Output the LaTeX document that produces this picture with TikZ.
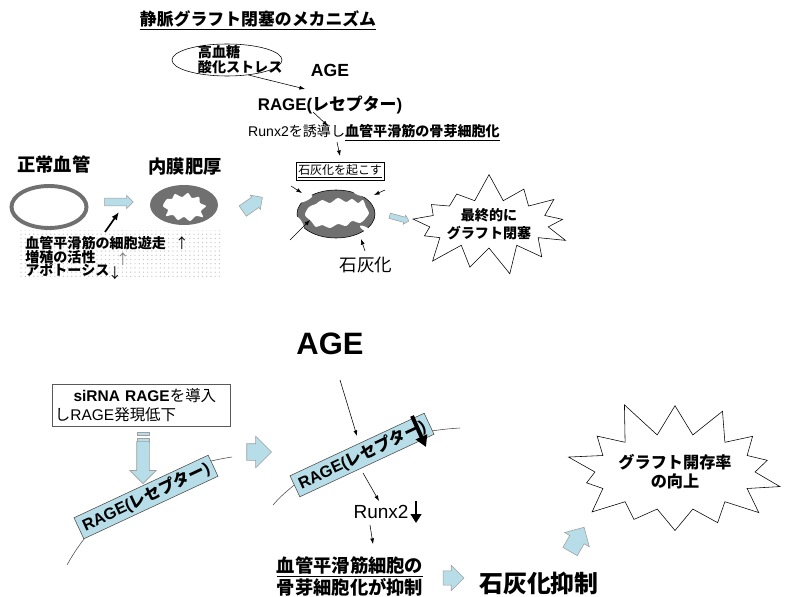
\documentclass[tikz,border=0pt]{standalone}
\usepackage{fontspec}
\setmainfont{Noto Sans CJK JP}
\newfontfamily\latin{Liberation Sans}
\usepackage{tikz}
\usetikzlibrary{positioning,arrows.meta,shapes.geometric,shapes.arrows,shapes.symbols,patterns,calc}
\definecolor{pale}{RGB}{183,222,232}
\definecolor{wall}{RGB}{112,112,112}
\newcommand\fsz[2]{\fontsize{#1}{#2}\selectfont}

\begin{document}
\begin{tikzpicture}[x=0.025cm,y=-0.025cm,
  arr/.style={-{Latex[length=1.4mm,width=1mm]},thin},
  fat/.style={-{Triangle[length=2.2mm,width=2.6mm]},line width=1.8pt},
  blk/.style={single arrow,draw=gray!75,fill=pale,inner sep=0pt},
  rage/.style={draw=gray!60!black,fill=pale,rotate=25,minimum width=3.7cm,
    minimum height=0.58cm,inner sep=1pt,font=\fsz{11.5}{13}\bfseries},
  burst/.style={starburst,draw,fill=white,align=center,inner sep=0pt}]
\useasboundingbox (0,0) rectangle (795,597);

% ---- upper half: how the graft closes ----
\node[font=\fsz{12}{14}\bfseries] (title) at (258,20) {\underline{静脈グラフト閉塞のメカニズム}};
\node[draw,ellipse,minimum width=2.75cm,minimum height=0.8cm,inner sep=0pt] (sugar) at (227,60) {};
\node[anchor=west,align=left,font=\fsz{10}{10.5}\bfseries] (sugarTxt) at (193,60) {高血糖\\酸化ストレス};
\node[font=\fsz{12.5}{14}\bfseries\latin] (ageTop) at (330,70) {AGE};
\node[font=\fsz{12}{14}\bfseries] (rageTop) at (330,105) {{\latin RAGE(}レセプター{\latin )}};
\node[font=\fsz{10}{12}] (runxTop) at (374,133) {{\latin Runx2}を誘導し\underline{\textbf{血管平滑筋の骨芽細胞化}}};
\node[draw,inner sep=1.5pt,font=\fsz{8.5}{10}] (calcBox) at (340,171) {\underline{石灰化を起こす}};
\coordinate (s1) at (305,89);
\coordinate (r1) at (313,112); \coordinate (r2) at (328,126);
\coordinate (k1) at (337,142); \coordinate (k2) at (340,156);
\draw[arr] (sugar.-35) -- (s1);
\draw[arr] (r1) -- (r2);
\draw[arr] (k1) -- (k2);

% normal vessel and intimal thickening
\node[font=\fsz{13}{15}\bfseries] (normalLbl) at (54,164) {正常血管};
\draw[wall,line width=2.8pt] (49,207) ellipse [x radius=37.5, y radius=21];
\node[blk,minimum height=0.72cm,inner ysep=0.09cm,single arrow head extend=0.07cm] (a1) at (117,202) {};
\node[font=\fsz{13}{15}\bfseries] (thickLbl) at (185,167) {内膜肥厚};
\fill[wall] (184,205) ellipse [x radius=34, y radius=20];
\fill[white] plot[smooth cycle,tension=0.5] coordinates {(163,206) (167,199) (172,199) (175,194)
  (182,197) (188,193) (192,198) (199,197) (200,203) (206,206) (201,211) (203,217) (196,216)
  (190,221) (184,217) (178,220) (173,215) (166,216) (168,210)};
\node[blk,rotate=35,minimum height=0.6cm,inner ysep=0.15cm,single arrow head extend=0.06cm] (a2) at (250,206) {};

% factors box
\path[pattern=dots,pattern color=gray!45] (20,230) rectangle (222,278);
\node[anchor=west,inner sep=0pt,font=\fsz{10}{12}\bfseries] (fac1) at (25,243) {血管平滑筋の細胞遊走};
\node[anchor=west,inner sep=0pt,font=\fsz{10}{12}\bfseries] (fac2) at (25,257) {増殖の活性};
\node[anchor=west,inner sep=0pt,font=\fsz{10}{12}\bfseries] (fac3) at (25,270) {アポトーシス};
\node[font=\fsz{10}{12}] (up1) at (182,243) {↑};
\node[font=\fsz{10}{12},text=gray] (up2) at (123,259) {↑};
\node[font=\fsz{10}{12},inner sep=0pt] (dn1) at (115,273) {↓};
\coordinate (b1) at (105,232); \coordinate (b2) at (119,212);
\draw[-{Latex[length=2mm,width=1.6mm]},line width=1.2pt] (b1) -- (b2);

% calcified wall
\fill[wall,draw=black,thin] (336,214) ellipse [x radius=39, y radius=24];
\fill[white] plot[smooth cycle,tension=0.5] coordinates {(305,215) (309,207) (316,204) (322,200)
  (330,203) (338,198) (346,202) (352,199) (358,203) (363,200) (366,207) (369,213) (365,219)
  (360,223) (352,221) (346,226) (338,224) (330,228) (322,225) (316,227) (311,221)};
\fill[white,rotate around={25:(305,199)}] (305,199) ellipse [x radius=8, y radius=2.2];
\fill[white,rotate around={-15:(362,194)}] (362,194) ellipse [x radius=9, y radius=2.2];
\fill[white,rotate around={-60:(300,223)}] (300,223) ellipse [x radius=7, y radius=2.2];
\fill[white,rotate around={-30:(367,230)}] (367,230) ellipse [x radius=8, y radius=2.2];
\coordinate (c1) at (291,186); \coordinate (c2) at (302,193);
\coordinate (c3) at (385,190); \coordinate (c4) at (374,195);
\coordinate (c5) at (290,240); \coordinate (c6) at (310,220);
\coordinate (c7) at (365,251); \coordinate (c8) at (361,239);
\draw[arr] (c1) -- (c2);
\draw[arr] (c3) -- (c4);
\draw[arr] (c5) -- (c6);
\draw[arr] (c7) -- (c8);
\node[font=\fsz{12.5}{14}] (calcLbl) at (366,265) {石灰化};
\node[blk,rotate=-15,minimum height=0.5cm,inner ysep=0.06cm,single arrow head extend=0.05cm] (a3) at (398,218) {};
\node[burst,minimum width=3.3cm,minimum height=2.6cm,starburst points=13,
  starburst point height=0.7cm,random starburst=7,font=\fsz{10}{12.5}\bfseries] (occl) at (489,224)
  {最終的に\\グラフト閉塞};

% ---- lower half: RAGE knock-down ----
\node[font=\fsz{22}{24}\bfseries\latin] (ageBot) at (330,344) {AGE};
\node[draw=gray!70!black,minimum width=4.45cm,minimum height=1.05cm,text width=4.3cm,align=left,
  inner sep=2pt,font=\fsz{11}{13.5}] (sirna) at (141,405)
  {\hspace*{1.2em}{\bfseries\latin siRNA RAGE}を導入\\し{\latin RAGE}発現低下};
% striped block arrow down to the receptor
\fill[pale,draw=gray!75] (137,432) rectangle (149,435);
\fill[pale,draw=gray!75] (137,438) rectangle (149,442);
\node[blk,rotate=-90,minimum height=1.05cm,inner ysep=0.15cm,single arrow head extend=0.17cm,
  anchor=tip] (a4) at (143,484) {};
% membranes with the receptor
\draw[gray!60!black] (67,565) .. controls (100,505) and (160,468) .. (232,457);
\node[rage] (rageL) at (146,497) {{\latin RAGE(}レセプター{\latin )}};
\node[blk,minimum height=0.62cm,inner ysep=0.2cm,single arrow head extend=0.19cm] (a5) at (255,452) {};
\draw[gray!60!black] (273,505) .. controls (310,462) and (390,432) .. (460,428);
\node[rage] (rageR) at (362,455) {{\latin RAGE(}レセプター{\latin )}};
\coordinate (g1) at (340,380); \coordinate (g2) at (357,436);
\draw[arr] (g1) -- (g2);
\coordinate (d1) at (412,416); \coordinate (d2) at (426,447);
\draw[-{Triangle[length=2.8mm,width=3mm]},line width=2.8pt] (d1) -- (d2);
\node[font=\fsz{13.5}{15}\latin] (runxBot) at (381,512) {Runx2};
\coordinate (e1) at (363,473); \coordinate (e2) at (379,501);
\draw[arr] (e1) -- (e2);
\coordinate (f1) at (416,501); \coordinate (f2) at (416,523);
\draw[fat] (f1) -- (f2);
\coordinate (h1) at (370,525); \coordinate (h2) at (373,544);
\draw[arr] (h1) -- (h2);
\node[align=center,font=\fsz{13}{13.5}\bfseries] (osteo) at (350,578)
  {\underline{血管平滑筋細胞の}\\\underline{骨芽細胞化が抑制}};
\node[blk,minimum height=0.52cm,inner ysep=0.17cm,single arrow head extend=0.14cm] (a6) at (450,578) {};
\node[font=\fsz{17}{19}\bfseries] (inhib) at (539,583) {石灰化抑制};
\node[blk,rotate=60,minimum height=0.7cm,inner ysep=0.2cm,single arrow head extend=0.15cm] (a7) at (575,543) {};
\node[burst,minimum width=5.9cm,minimum height=3.8cm,starburst points=14,
  starburst point height=0.95cm,random starburst=11,font=\fsz{11.5}{13.5}\bfseries] (patency) at (675,472)
  {グラフト開存率\\の向上};
\end{tikzpicture}
\end{document}
